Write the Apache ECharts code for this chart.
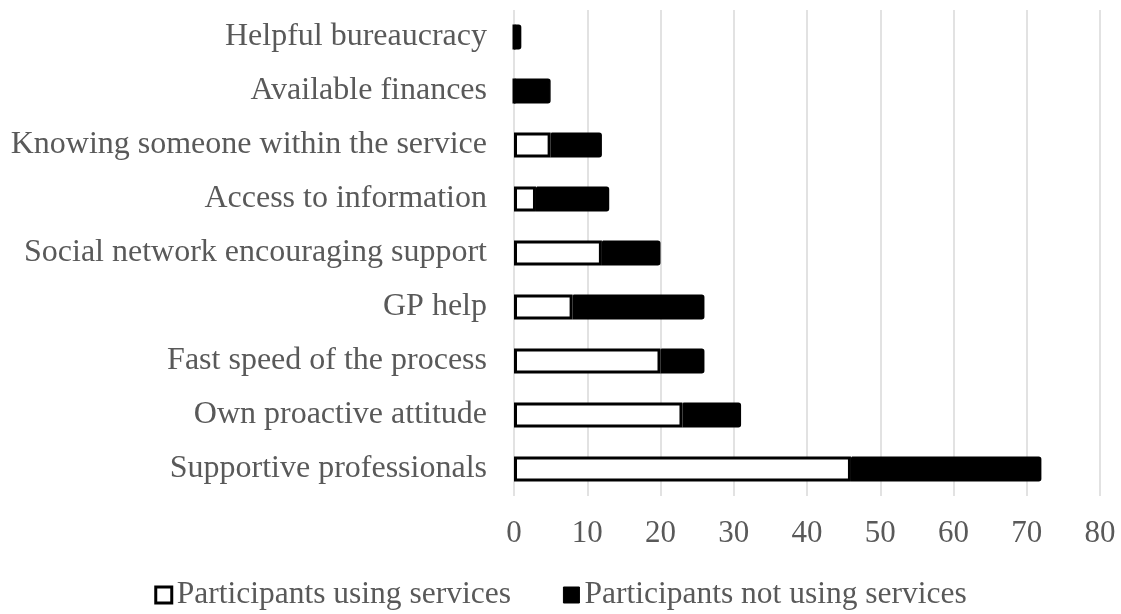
<!DOCTYPE html>
<html>
<head>
<meta charset="utf-8">
<script src="https://cdn.jsdelivr.net/npm/echarts@6/dist/echarts.min.js"></script>
<style>
html,body{margin:0;padding:0;background:#fff;}
#chart{width:1121px;height:614px;}
</style>
</head>
<body>
<div id="chart"></div>
<script>
const categories = [
  "Supportive professionals",
  "Own proactive attitude",
  "Fast speed of the process",
  "GP help",
  "Social network encouraging support",
  "Access to information",
  "Knowing someone within the service",
  "Available finances",
  "Helpful bureaucracy"
];
const usingServices = [46, 23, 20, 8, 12, 3, 5, 0, 0];
const notUsingServices = [26, 8, 6, 18, 8, 10, 7, 5, 1];
const seriesNames = ["Participants using services", "Participants not using services"];

const textColor = "#595959";
const fontFamily = "'Liberation Serif', 'Times New Roman', serif";

const chart = echarts.init(document.getElementById('chart'));
chart.setOption({
  animation: false,
  backgroundColor: '#ffffff',
  textStyle: { fontFamily: fontFamily },
  grid: { left: 514, right: 21, top: 10, bottom: 118, containLabel: false },
  legend: {
    bottom: -2,
    left: 'center',
    icon: 'rect',
    itemWidth: 16,
    itemHeight: 16,
    itemGap: 52,
    textStyle: { color: textColor, fontSize: 31.5, fontFamily: fontFamily, padding: [0, 0, 0, 0] },
    data: [
      { name: seriesNames[0], itemStyle: { color: '#ffffff', borderColor: '#000000', borderWidth: 3 } },
      { name: seriesNames[1], itemStyle: { color: '#000000', borderColor: '#000000', borderWidth: 1 } }
    ]
  },
  xAxis: {
    type: 'value',
    min: 0,
    max: 80,
    interval: 10,
    axisLine: { show: false },
    axisTick: { show: false },
    splitLine: { show: true, lineStyle: { color: '#d9d9d9', width: 1.5 } },
    axisLabel: { color: textColor, fontSize: 31, fontFamily: fontFamily, margin: 22 }
  },
  yAxis: {
    type: 'category',
    data: categories,
    axisLine: { show: false },
    axisTick: { show: false },
    axisLabel: { color: textColor, fontSize: 32, fontFamily: fontFamily, margin: 27 }
  },
  series: [
    {
      name: seriesNames[0],
      type: 'bar',
      stack: 'total',
      data: usingServices,
      barWidth: 25,
      itemStyle: { color: '#ffffff', borderColor: '#000000', borderWidth: 3 }
    },
    {
      name: seriesNames[1],
      type: 'bar',
      stack: 'total',
      data: notUsingServices,
      barWidth: 25,
      itemStyle: { color: '#000000', borderColor: '#000000', borderWidth: 1.5, borderRadius: [0, 2, 2, 0] }
    }
  ]
});
</script>
</body>
</html>
